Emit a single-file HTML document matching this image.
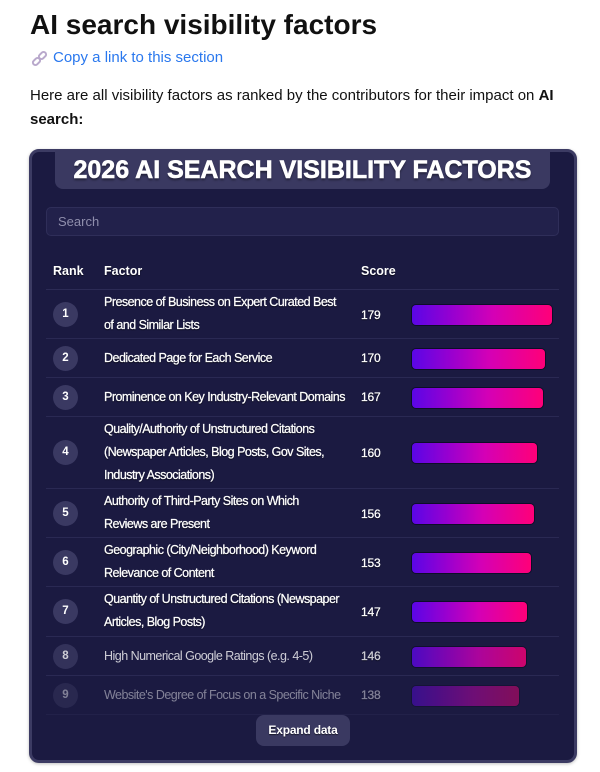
<!DOCTYPE html>
<html>
<head>
<meta charset="utf-8">
<style>
  html,body{margin:0;padding:0;}
  body{width:600px;height:772px;background:#ffffff;position:relative;overflow:hidden;font-family:"Liberation Sans",Arial,sans-serif;}
  .abs{position:absolute;}
  h1{position:absolute;left:30px;top:7px;margin:0;font-size:28px;line-height:36px;font-weight:bold;color:#111;white-space:nowrap;}
  .link{position:absolute;left:53px;top:48px;font-size:15px;line-height:20px;color:#2a78ee;white-space:nowrap;}
  .para{position:absolute;left:30px;top:84px;width:560px;font-size:15px;line-height:24px;color:#111;}
  .card{position:absolute;left:29px;top:149px;width:542px;height:608px;border:3px solid #3c3b63;border-radius:10px;background:#1b1a41;box-shadow:0 1px 3px rgba(0,0,0,.25);}
  .tab{position:absolute;left:55px;top:150px;width:495px;height:39px;background:#3a3961;border-radius:0 0 8px 8px;}
  .tabtxt{position:absolute;left:55px;top:152px;width:495px;text-align:center;font-size:25px;line-height:36px;font-weight:bold;color:#fff;white-space:nowrap;-webkit-text-stroke:0.6px #fff;text-shadow:0 2px 2px rgba(0,0,0,.45);}
  .search{position:absolute;left:46px;top:207px;width:511px;height:27px;background:#22214b;border:1px solid #2f2e59;border-radius:5px;}
  .search span{position:absolute;left:11px;top:0;line-height:28px;font-size:13px;color:#8f8eac;}
  .hdr{position:absolute;top:262px;font-size:12.5px;line-height:18px;font-weight:bold;color:#fff;text-shadow:0 1px 1px rgba(0,0,0,.6);}
  .hline{position:absolute;left:46px;top:289px;width:513px;height:1px;background:#2c2b55;}
  .row{position:absolute;left:46px;width:513px;border-bottom:1px solid #2a2953;box-sizing:border-box;}
  .badge{position:absolute;left:7px;width:25px;height:25px;border-radius:50%;background:#3a3962;color:#fff;font-size:11.5px;font-weight:bold;text-align:center;line-height:25px;}
  .fac{position:absolute;left:58px;font-size:12.5px;letter-spacing:-0.52px;line-height:23px;color:#fff;white-space:nowrap;text-shadow:0 1px 1px rgba(0,0,0,.7);-webkit-text-stroke:0.25px #fff;}
  .score{position:absolute;left:315px;font-size:12px;letter-spacing:-0.2px;line-height:16px;color:#fff;text-shadow:0 1px 1px rgba(0,0,0,.7);-webkit-text-stroke:0.25px #fff;}
  .bar{position:absolute;left:366px;height:20px;border-radius:4px;background:linear-gradient(90deg,#5a06e6 0%,#9a00cf 30%,#d400b6 58%,#ff0078 100%);box-shadow:0 0 0 1px rgba(5,5,25,.6);}
  .btn{position:absolute;left:256px;top:715px;width:94px;height:31px;border-radius:8px;background:#3a3961;color:#fff;font-size:12px;font-weight:bold;text-align:center;line-height:31px;text-shadow:0 1px 1px rgba(0,0,0,.6);letter-spacing:-0.2px;}
</style>
</head>
<body>
  <h1>AI search visibility factors</h1>
  <svg class="abs" style="left:31px;top:50px" width="17" height="17" viewBox="0 0 17 17">
    <g fill="none" stroke="#b9a9cc" stroke-width="2" stroke-linecap="round">
      <rect x="1.5" y="9" width="8" height="5" rx="2.5" transform="rotate(-45 5.5 11.5)"/>
      <rect x="7.5" y="3" width="8" height="5" rx="2.5" transform="rotate(-45 11.5 5.5)"/>
    </g>
  </svg>
  <div class="link">Copy a link to this section</div>
  <div class="para">Here are all visibility factors as ranked by the contributors for their impact on <b>AI search:</b></div>

  <div class="card"></div>
  <div class="tab"></div>
  <div class="tabtxt">2026 AI SEARCH VISIBILITY FACTORS</div>
  <div class="search"><span>Search</span></div>

  <div class="hdr" style="left:53px">Rank</div>
  <div class="hdr" style="left:104px">Factor</div>
  <div class="hdr" style="left:361px">Score</div>
  <div class="hline"></div>

  <!-- row 1 -->
  <div class="row" style="top:290px;height:49px;">
    <div class="badge" style="top:12px">1</div>
    <div class="fac" style="top:1px">Presence of Business on Expert Curated Best<br>of and Similar Lists</div>
    <div class="score" style="top:17px">179</div>
    <div class="bar" style="top:15px;width:140px"></div>
  </div>
  <!-- row 2 -->
  <div class="row" style="top:339px;height:39px;">
    <div class="badge" style="top:7px">2</div>
    <div class="fac" style="top:8px">Dedicated Page for Each Service</div>
    <div class="score" style="top:11px">170</div>
    <div class="bar" style="top:10px;width:133px"></div>
  </div>
  <!-- row 3 -->
  <div class="row" style="top:378px;height:39px;">
    <div class="badge" style="top:7px">3</div>
    <div class="fac" style="top:8px">Prominence on Key Industry-Relevant Domains</div>
    <div class="score" style="top:11px">167</div>
    <div class="bar" style="top:10px;width:131px"></div>
  </div>
  <!-- row 4 -->
  <div class="row" style="top:417px;height:72px;">
    <div class="badge" style="top:23px">4</div>
    <div class="fac" style="top:1px">Quality/Authority of Unstructured Citations<br>(Newspaper Articles, Blog Posts, Gov Sites,<br>Industry Associations)</div>
    <div class="score" style="top:28px">160</div>
    <div class="bar" style="top:26px;width:125px"></div>
  </div>
  <!-- row 5 -->
  <div class="row" style="top:489px;height:49px;">
    <div class="badge" style="top:12px">5</div>
    <div class="fac" style="top:1px">Authority of Third-Party Sites on Which<br>Reviews are Present</div>
    <div class="score" style="top:17px">156</div>
    <div class="bar" style="top:15px;width:122px"></div>
  </div>
  <!-- row 6 -->
  <div class="row" style="top:538px;height:49px;">
    <div class="badge" style="top:12px">6</div>
    <div class="fac" style="top:1px">Geographic (City/Neighborhood) Keyword<br>Relevance of Content</div>
    <div class="score" style="top:17px">153</div>
    <div class="bar" style="top:15px;width:119px"></div>
  </div>
  <!-- row 7 -->
  <div class="row" style="top:587px;height:50px;">
    <div class="badge" style="top:12px">7</div>
    <div class="fac" style="top:1px">Quantity of Unstructured Citations (Newspaper<br>Articles, Blog Posts)</div>
    <div class="score" style="top:17px">147</div>
    <div class="bar" style="top:15px;width:115px"></div>
  </div>
  <!-- row 8 -->
  <div class="row" style="top:637px;height:39px;">
    <div style="position:absolute;left:0;top:0;width:513px;height:38px;opacity:.78">
      <div class="badge" style="top:7px">8</div>
      <div class="fac" style="top:8px;text-shadow:none;-webkit-text-stroke:0">High Numerical Google Ratings (e.g. 4-5)</div>
      <div class="score" style="top:11px">146</div>
      <div class="bar" style="top:10px;width:114px"></div>
    </div>
  </div>
  <!-- row 9 -->
  <div class="row" style="top:676px;height:39px;border-bottom-color:#222149;">
    <div style="position:absolute;left:0;top:0;width:513px;height:38px;opacity:.45">
      <div class="badge" style="top:7px">9</div>
      <div class="fac" style="top:8px;text-shadow:none;-webkit-text-stroke:0">Website's Degree of Focus on a Specific Niche</div>
      <div class="score" style="top:11px">138</div>
      <div class="bar" style="top:10px;width:107px"></div>
    </div>
  </div>

  <div class="btn">Expand data</div>
</body>
</html>
